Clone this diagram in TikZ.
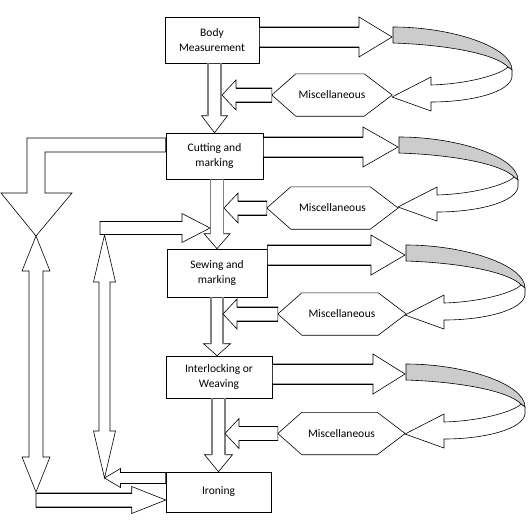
\documentclass[tikz,border=0pt]{standalone}
\usepackage{fontspec}
\setmainfont{Carlito}
\usetikzlibrary{calc}

% straight block arrow: [shaft style]{from}{to}{shaft half}{head half}{head length}
\newcommand{\blockarrow}[6][line width=0.6pt]{%
  \coordinate (hb) at ($(#3)!#6!(#2)$);
  \draw[blk] ($(#2)!#4!90:(#3)$) -- ($(hb)!#4!90:(#3)$) -- ($(hb)!#5!90:(#3)$) -- (#3)
    -- ($(hb)!#5!-90:(#3)$) -- ($(hb)!#4!-90:(#3)$) -- ($(#2)!#4!-90:(#3)$) -- cycle;
  \draw[#1] ($(#2)!#4!90:(#3)$) -- ($(hb)!#4!90:(#3)$) ($(#2)!#4!-90:(#3)$) -- ($(hb)!#4!-90:(#3)$);
}
% block arrow with a head at both ends
\newcommand{\twoway}[5]{%
  \coordinate (ha) at ($(#1)!#5!(#2)$);
  \coordinate (hb) at ($(#2)!#5!(#1)$);
  \draw[blk] (#1) -- ($(ha)!#4!90:(#2)$) -- ($(ha)!#3!90:(#2)$) -- ($(hb)!#3!-90:(#1)$)
    -- ($(hb)!#4!-90:(#1)$) -- (#2) -- ($(hb)!#4!90:(#1)$) -- ($(hb)!#3!90:(#1)$)
    -- ($(ha)!#3!-90:(#2)$) -- ($(ha)!#4!-90:(#2)$) -- cycle;
}
% hexagon round a misc node
\newcommand{\hexof}[1]{%
  \draw[hexline] (#1.west) -- ($(#1.north west)+(24,0)$) -- ($(#1.north east)+(-28,0)$) -- (#1.east)
    -- ($(#1.south east)+(-28,0)$) -- ($(#1.south west)+(24,0)$) -- cycle;
}

\tikzset{
  ribbon/.pic={
    \draw[line width=0.6pt, fill=black!20] (1,-10) .. controls (60,-10) and (120,10) .. (120,33)
      -- (116,30) .. controls (105,18) and (60,8) .. (1,6) -- cycle;
    \draw[line width=0.6pt, fill=white] (120,33) -- (120,40) .. controls (118,55) and (80,65) .. (39,65)
      -- (39,74) -- (0,60) -- (39,40) -- (39,48) .. controls (75,47) and (108,38) .. (116,30) -- cycle;
  }
}

\begin{document}
\begin{tikzpicture}[x=1pt, y=-1pt,
    every node/.style={font=\fontsize{11.5}{15}\selectfont, align=center},
    box/.style={draw, rectangle, inner sep=0pt, line width=0.6pt},
    misc/.style={inner sep=0pt, minimum height=42pt},
    hexline/.style={draw, line width=0.6pt},
    blk/.style={draw, fill=white, line width=0.6pt, line join=miter},
    shaft/.style={draw=black!50, line width=1.6pt}]
    \useasboundingbox (0,0) rectangle (532,522);

    % Process boxes
    \node[box, minimum width=94pt, minimum height=46pt] (body) at (212,40) {Body\\Measurement};
    \node[box, minimum width=97pt, minimum height=46pt] (cut) at (214.5,156) {Cutting and\\marking};
    \node[box, minimum width=100pt, minimum height=48pt] (sew) at (217,273) {Sewing and\\marking};
    \node[box, minimum width=106pt, minimum height=42pt] (inter) at (219,377) {Interlocking or\\Weaving};
    \node[box, minimum width=105pt, minimum height=40pt] (iron) at (218.5,492) {Ironing};

    % Miscellaneous nodes
    \node[misc, minimum width=120pt] (m1) at (332,95) {Miscellaneous};
    \node[misc, minimum width=131pt] (m2) at (332.5,208) {Miscellaneous};
    \node[misc, minimum width=128pt] (m3) at (342,314) {Miscellaneous};
    \node[misc, minimum width=127pt] (m4) at (341.5,433.5) {Miscellaneous};
    \hexof{m1}
    \hexof{m2}
    \hexof{m3}
    \hexof{m4}

    % Main flow
    \blockarrow[shaft]{body.south -| cut.north}{cut.north}{6.5pt}{13pt}{17pt}
    \blockarrow[shaft]{cut.south -| sew.north}{sew.north}{6.5pt}{13pt}{15pt}
    \blockarrow[shaft]{sew.south}{sew.south |- inter.north}{6pt}{13.5pt}{12pt}
    \blockarrow[shaft]{inter.south -| iron.north}{iron.north}{6.5pt}{14pt}{17pt}

    % Miscellaneous into the flow
    \blockarrow{m1.west}{m1.west -| 222,0}{7pt}{15pt}{14pt}
    \blockarrow{m2.west}{m2.west -| 224,0}{7pt}{15pt}{14pt}
    \blockarrow{m3.west}{m3.west -| 223,0}{7pt}{15pt}{14pt}
    \blockarrow{m4.west}{m4.west -| 225,0}{7pt}{15pt}{14pt}

    % Loops on the right
    \coordinate (t1) at (392,37);
    \coordinate (t2) at (398,147);
    \coordinate (t3) at (405,255);
    \coordinate (t4) at (405,374);
    \blockarrow{body.east |- t1}{t1}{10pt}{20pt}{33pt}
    \blockarrow{cut.east |- t2}{t2}{10pt}{20pt}{35pt}
    \blockarrow{sew.east |- t3}{t3}{10pt}{20pt}{34pt}
    \blockarrow{inter.east |- t4}{t4}{10pt}{20pt}{32pt}
    \pic at (t1) {ribbon};
    \pic at (t2) {ribbon};
    \pic at (t3) {ribbon};
    \pic at (t4) {ribbon};

    % Feedback on the left
    \coordinate (fork) at (36,236);
    \coordinate (corner) at (36,492);
    \coordinate (up) at (104.5,235);
    \coordinate (down) at (104.5,478);
    \coordinate (feed) at (100,228);
    \coordinate (join) at (210,228);
    \draw[blk] (cut.west |- 0,138) -- (27,138) -- (27,193) -- (1,193) -- (fork) -- (72,193)
      -- (45,193) -- (45,152) -- (cut.west |- 0,152) -- cycle;
    \twoway{fork}{corner}{7pt}{14pt}{35pt}
    \blockarrow{corner |- 0,500}{iron.west |- 0,500}{7pt}{13.5pt}{34pt}
    \twoway{up}{down}{5.5pt}{11pt}{47pt}
    \blockarrow{iron.west |- down}{down}{5.5pt}{9.5pt}{16pt}
    \blockarrow{feed}{join}{6.5pt}{14.5pt}{28pt}
\end{tikzpicture}
\end{document}
